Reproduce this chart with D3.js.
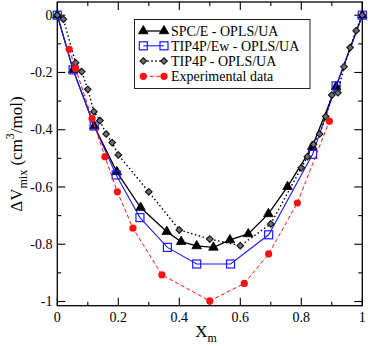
<!DOCTYPE html>
<html><head><meta charset="utf-8">
<script src="https://cdn.jsdelivr.net/npm/d3@7"></script>
<style>html,body{margin:0;padding:0;background:#fff;}svg{display:block;}
svg text{font-family:"Liberation Serif","Times New Roman",Times,"DejaVu Serif",serif;}</style>
</head><body>
<script>
const xTicks = [0, 0.2, 0.4, 0.6, 0.8, 1];
const xTickLabels = ["0", "0.2", "0.4", "0.6", "0.8", "1"];
const yTicks = [0, -0.2, -0.4, -0.6, -0.8, -1];
const yTickLabels = ["0", "-0.2", "-0.4", "-0.6", "-0.8", "-1"];

const seriesNames = ["SPC/E - OPLS/UA", "TIP4P/Ew - OPLS/UA", "TIP4P - OPLS/UA", "Experimental data"];

const spceX = [0, 0.052, 0.121, 0.195, 0.273, 0.359, 0.406, 0.457, 0.512, 0.566, 0.626, 0.692, 0.755, 0.836, 0.914, 1];
const spceY = [0, -0.191, -0.387, -0.547, -0.672, -0.756, -0.791, -0.806, -0.811, -0.785, -0.764, -0.694, -0.599, -0.459, -0.25, 0];

const ewX = [0, 0.052, 0.121, 0.193, 0.271, 0.361, 0.457, 0.568, 0.693, 0.837, 0.914, 1];
const ewY = [0, -0.191, -0.387, -0.558, -0.707, -0.811, -0.869, -0.869, -0.767, -0.486, -0.247, 0];

const tip4pX = [0, 0.02, 0.06, 0.08, 0.1, 0.12, 0.14, 0.16, 0.18, 0.2, 0.3, 0.4, 0.5, 0.6, 0.7, 0.8, 0.82, 0.84, 0.86, 0.88, 0.9, 0.92, 0.94, 0.96, 0.98, 1];
const tip4pY = [0, -0.014, -0.166, -0.197, -0.259, -0.337, -0.368, -0.415, -0.445, -0.488, -0.617, -0.750, -0.782, -0.805, -0.729, -0.533, -0.494, -0.451, -0.415, -0.354, -0.279, -0.271, -0.180, -0.113, -0.054, 0];

const expX = [0.039, 0.06, 0.114, 0.156, 0.197, 0.248, 0.343, 0.5, 0.613, 0.693, 0.787, 0.892];
const expY = [-0.119, -0.186, -0.361, -0.494, -0.617, -0.744, -0.907, -0.998, -0.937, -0.834, -0.656, -0.37];

(function () {
const W = 368, H = 346;
const pLeft = 57.3, pRight = 362.3, pTop = 2, pBottom = 305.7;
const font = "Liberation Serif";

const x = d3.scaleLinear().domain([0, 1]).range([pLeft, pRight]);
const y = d3.scaleLinear().domain([0, -1]).range([15.2, 301.5]);

const svg = d3.select("body").append("svg").attr("width", W).attr("height", H)
  .attr("font-family", font);

// ticks (inward) on all four sides
const tickG = svg.append("g").attr("stroke", "#000").attr("stroke-width", 1.1);
const xMinor = d3.range(0, 11).map(k => k / 10);
xMinor.forEach((v, i) => {
  const len = (i % 2 === 0) ? 8 : 4;
  const px = x(v);
  tickG.append("line").attr("x1", px).attr("x2", px).attr("y1", pBottom).attr("y2", pBottom - len);
  tickG.append("line").attr("x1", px).attr("x2", px).attr("y1", pTop).attr("y2", pTop + len);
});
const yMinor = d3.range(0, 11).map(k => -k / 10);
yMinor.forEach((v, i) => {
  const len = (i % 2 === 0) ? 8 : 4;
  const py = y(v);
  tickG.append("line").attr("x1", pLeft).attr("x2", pLeft + len).attr("y1", py).attr("y2", py);
  tickG.append("line").attr("x1", pRight).attr("x2", pRight - len).attr("y1", py).attr("y2", py);
});

// frame
svg.append("rect").attr("x", pLeft).attr("y", pTop).attr("width", pRight - pLeft).attr("height", pBottom - pTop)
  .attr("fill", "none").attr("stroke", "#000").attr("stroke-width", 1.3);

// tick labels
svg.append("g").selectAll("text").data(xTicks).join("text")
  .attr("font-family", font)
  .attr("x", d => x(d)).attr("y", 321.5).attr("text-anchor", "middle")
  .attr("font-size", 14).text((d, i) => xTickLabels[i]);
svg.append("g").selectAll("text").data(yTicks).join("text")
  .attr("font-family", font)
  .attr("x", 52.5).attr("y", d => y(d)).attr("dy", "0.34em").attr("text-anchor", "end")
  .attr("font-size", 14).text((d, i) => yTickLabels[i]);

// axis titles
const xt = svg.append("text").attr("font-family", font).attr("x", 206).attr("y", 337).attr("text-anchor", "middle").attr("font-size", 17);
xt.append("tspan").text("X");
xt.append("tspan").attr("font-size", 12).attr("dy", 5).text("m");

const yt = svg.append("text").attr("font-family", font).attr("transform", "translate(21.5,154) rotate(-90)")
  .attr("text-anchor", "middle").attr("font-size", 17);
yt.append("tspan").text("ΔV");
yt.append("tspan").attr("font-size", 12).attr("dy", 5).text("mix");
yt.append("tspan").attr("dy", -5).text(" (cm");
yt.append("tspan").attr("font-size", 12).attr("dy", -8).text("3");
yt.append("tspan").attr("dy", 8).text("/mol)");

const line = d3.line().x(d => x(d[0])).y(d => y(d[1]));
const zip = (a, b) => a.map((v, i) => [v, b[i]]);

const sym = {
  tri: (g, px, py) => g.append("path").attr("d", d3.symbol(d3.symbolTriangle, 40)()).attr("transform", `translate(${px},${py})`)
    .attr("fill", "#000").attr("stroke", "#000").attr("stroke-width", 0.8),
  sq: (g, px, py) => g.append("rect").attr("x", px - 4).attr("y", py - 4).attr("width", 8).attr("height", 8)
    .attr("fill", "none").attr("stroke", "#1a1aff").attr("stroke-width", 1.2),
  dia: (g, px, py) => g.append("path").attr("d", `M${px},${py - 3.3}L${px + 3.3},${py}L${px},${py + 3.3}L${px - 3.3},${py}Z`)
    .attr("fill", "#6e6e6e").attr("stroke", "#111").attr("stroke-width", 1.1),
  circ: (g, px, py) => g.append("circle").attr("cx", px).attr("cy", py).attr("r", 3.6).attr("fill", "#ff1010")
};

const series = [
  { xs: spceX, ys: spceY, color: "#000", dash: null, w: 1.3, s: "tri" },
  { xs: ewX, ys: ewY, color: "#1a1aff", dash: null, w: 1.1, s: "sq" },
  { xs: tip4pX, ys: tip4pY, color: "#000", dash: "1.5,2.5", w: 1.4, s: "dia" },
  { xs: expX, ys: expY, color: "#ff1010", dash: "4,2.5", w: 1, s: "circ" }
];

const plotG = svg.append("g");
series.forEach(sr => {
  const pts = zip(sr.xs, sr.ys);
  const g = plotG.append("g");
  g.append("path").attr("d", line(pts)).attr("fill", "none").attr("stroke", sr.color)
    .attr("stroke-width", sr.w).attr("stroke-dasharray", sr.dash);
  pts.forEach(p => sym[sr.s](g, x(p[0]), y(p[1])));
});

// legend
const lg = svg.append("g");
lg.append("rect").attr("x", 134.5).attr("y", 19.5).attr("width", 175.5).attr("height", 69)
  .attr("fill", "#fff").attr("stroke", "#222").attr("stroke-width", 1);
const rowY = [31, 45.8, 61, 76.3];
series.forEach((sr, i) => {
  const yy = rowY[i];
  lg.append("line").attr("x1", 143.3).attr("x2", 164).attr("y1", yy).attr("y2", yy)
    .attr("stroke", sr.color).attr("stroke-width", sr.w).attr("stroke-dasharray", sr.dash);
  sym[sr.s](lg, 143.3, yy);
  sym[sr.s](lg, 164, yy);
  lg.append("text").attr("font-family", font).attr("x", 171).attr("y", yy).attr("dy", "0.34em").attr("font-size", 14)
    .text(seriesNames[i]);
});
})();
</script>
</body></html>
